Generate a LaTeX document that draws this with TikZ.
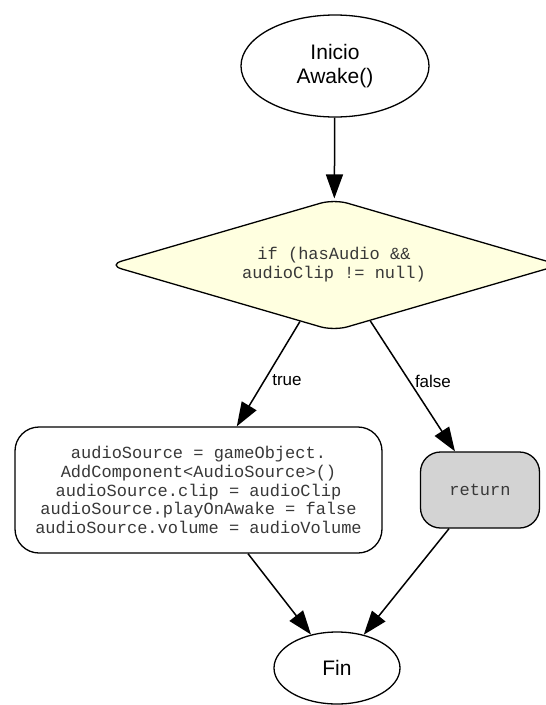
\documentclass[tikz,border=0pt]{standalone}
\usepackage{fontspec}
\setmainfont{Liberation Sans}
\newfontfamily\codefont{Liberation Mono}
\usetikzlibrary{shapes.geometric,arrows.meta}
\definecolor{yellowfill}{HTML}{FFFFE0}
\definecolor{grayfill}{HTML}{D3D3D3}
\definecolor{codeink}{HTML}{383838}
\tikzset{
  flow/.style={line width=1.5pt, -{Triangle[length=24pt,width=17pt]}},
  terminal/.style={ellipse, draw, line width=1.3pt, inner sep=0pt,
    font=\fontsize{21}{24}\selectfont, align=center},
  decision/.style={diamond, draw, line width=1.3pt, fill=yellowfill,
    rounded corners=14pt, inner sep=0pt, aspect=3.4,
    minimum width=452pt, minimum height=132pt, text=codeink,
    font=\codefont\fontsize{17}{19}\selectfont, align=center},
  codebox/.style={rectangle, draw, line width=1.3pt, rounded corners=24pt,
    inner sep=0pt, text=codeink,
    font=\codefont\fontsize{17}{18.8}\selectfont, align=center},
  edgelabel/.style={font=\fontsize{17}{20}\selectfont, inner sep=2pt}
}
\begin{document}
\begin{tikzpicture}[x=1pt,y=-1pt]
  \useasboundingbox (0,0) rectangle (546,705);
  \fill[white] (0,0) rectangle (546,705);

  \node[terminal, minimum width=188pt, minimum height=102pt] (start) at (335,66)
    {Inicio\\Awake()};

  \node[decision] (cond) at (334,265)
    {if (hasAudio \&\&\\audioClip != null)};

  \node[codebox, minimum width=367pt, minimum height=126pt] (setup) at (198.5,490)
    {audioSource = gameObject.\\
     AddComponent<AudioSource>()\\
     audioSource.clip = audioClip\\
     audioSource.playOnAwake = false\\
     audioSource.volume = audioVolume};

  \node[codebox, fill=grayfill, rounded corners=20pt,
        minimum width=119pt, minimum height=76pt] (ret) at (480,490) {return};

  \node[terminal, minimum width=126pt, minimum height=72pt] (fin) at (337,668) {Fin};

  \draw[flow] (start) -- (cond);
  \draw[flow] (cond) -- node[edgelabel, pos=0.56, anchor=west, xshift=5pt] {true} (setup);
  \draw[flow] (cond) -- node[edgelabel, pos=0.46, anchor=west, xshift=3pt] {false} (ret);
  \draw[flow] (setup) -- (fin);
  \draw[flow] (ret) -- (fin);
\end{tikzpicture}
\end{document}
